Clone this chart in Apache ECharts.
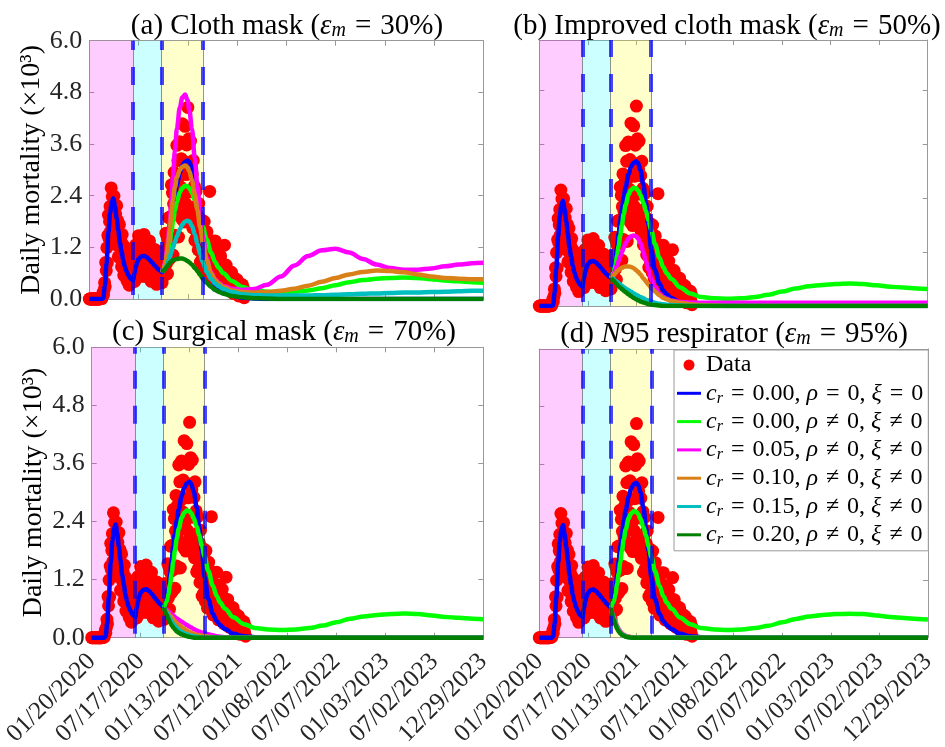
<!DOCTYPE html>
<html>
<head>
<meta charset="utf-8">
<script src="https://cdn.jsdelivr.net/npm/echarts@6/dist/echarts.min.js"></script>
<style>html,body{margin:0;padding:0;background:#fff}#c{width:945px;height:747px}</style>
</head>
<body>
<div id="c"></div>
<script>
// ---------- DATA ----------
const xTickLabels = ['01/20/2020','07/17/2020','01/13/2021','07/12/2021','01/08/2022','07/07/2022','01/03/2023','07/02/2023','12/29/2023'];
const xTickStepDays = 180;
const yTickStep = 1.2;

// daily mortality (x10^3), one reading every 2 days starting 01/20/2020
const dataStepDays = 2;
const dailyDeaths = [
  0,0,0,0,0,0,0,0,0,0,
  0,0,0,0,0,0,0,0,0,0,
  0.01,0.01,0.03,0.01,0.07,0.15,0.1,0.21,0.38,0.29,
  0.85,0.66,1.19,0.84,1.48,1.95,1.41,1.8,2.15,1.58,
  2.58,1.83,2.38,1.53,2.09,2.39,1.55,1.77,1.97,1.26,
  2.17,1.33,1.82,0.98,1.48,1.73,0.97,1.16,1.35,0.75,
  1.5,0.84,1.25,0.55,0.99,1.2,0.57,0.75,0.93,0.42,
  1.12,0.54,0.94,0.32,0.74,0.97,0.44,0.65,0.86,0.4,
  1.15,0.58,1.05,0.41,0.94,1.26,0.6,0.87,1.14,0.56,
  1.47,0.77,1.29,0.52,1.09,1.4,0.69,0.94,1.2,0.62,
  1.5,0.79,1.28,0.52,1.06,1.35,0.64,0.87,1.1,0.53,
  1.35,0.67,1.12,0.41,0.9,1.16,0.5,0.72,0.93,0.4,
  1.15,0.55,0.96,0.34,0.79,1.02,0.46,0.65,0.84,0.39,
  1.06,0.53,0.9,0.38,0.82,1.12,0.57,0.82,1.11,0.56,
  1.53,0.82,1.46,0.59,1.36,1.89,0.92,1.39,1.91,0.97,
  2.65,1.41,2.46,1.02,2.21,2.94,1.48,2.1,2.74,1.44,
  3.57,1.96,3.22,1.44,2.84,3.65,1.94,2.6,3.26,1.86,
  4.07,2.36,3.63,1.79,3.19,4.01,2.22,2.89,3.58,2.03,
  4.45,2.49,3.72,1.78,3.05,3.67,2.01,2.49,2.9,1.65,
  3.22,1.88,2.62,1.36,2.15,2.5,1.43,1.71,1.96,1.14,
  2.22,1.28,1.83,0.86,1.5,1.84,0.92,1.21,1.5,0.75,
  1.8,0.93,1.52,0.61,1.24,1.56,0.73,1.0,1.25,0.59,
  2.5,0.76,1.29,0.47,1.04,1.35,0.6,0.85,1.09,0.48,
  1.35,0.63,1.08,0.37,0.84,1.08,0.47,0.65,0.83,0.37,
  1.0,0.48,0.8,0.29,0.63,0.81,0.36,1.25,0.64,0.29,
  0.79,0.38,0.64,0.22,0.51,0.65,0.27,0.4,0.5,0.21,
  0.62,0.27,0.49,0.13,0.37,0.49,0.18,0.27,0.36,0.13,
  0.45,0.17,0.36,0.07,0.26,0.36,0.11,0.19,0.25,0.07,
  0.33,0.11,0.24,0.03
];

// intervention phase boundaries (days since 01/20/2020)
const phaseBounds = [160, 264, 415];

// fitted period (common to all curves)
const fitDays = [0,45,51,57,63,70,76,82,88,94,100,106,112,118,124,130,136,142,150,160,165,170,175,180,190,200,210,220,230,240,250,260];
const blueFit = [0,0,0.02,0.3,0.83,1.55,2.0,2.25,2.34,2.15,1.88,1.6,1.3,1.1,0.9,0.75,0.64,0.56,0.48,0.43,0.6,0.75,0.85,0.93,0.99,1.0,0.97,0.91,0.84,0.77,0.7,0.65];

// projection period
const projDays = [266,275,282,288,294,300,306,313,320,331,340,350,359,366,375,386,395,405,415,429,445,460,472,490,521,560,600,650,700,750,800,850,900,950,1000,1050,1100,1150,1200,1250,1300,1350,1400,1440];
const blueProj  = [0.62,0.78,1.0,1.3,1.6,1.9,2.15,2.42,2.65,2.93,3.1,3.19,3.22,3.18,3.02,2.7,2.3,1.8,1.25,0.8,0.5,0.34,0.26,0.18,0.08,0.03,0.01,0,0,0,0,0,0,0,0,0,0,0,0,0,0,0,0,0];
const greenProj = [0.62,0.74,0.9,1.1,1.33,1.57,1.8,2.05,2.25,2.48,2.58,2.63,2.62,2.57,2.47,2.3,2.12,1.9,1.68,1.38,1.08,0.86,0.73,0.6,0.42,0.28,0.2,0.17,0.16,0.17,0.2,0.25,0.32,0.39,0.44,0.47,0.49,0.5,0.49,0.46,0.43,0.41,0.39,0.38];

// (a) cloth mask
const magA = [0.62,0.82,1.08,1.4,1.8,2.3,2.85,3.45,3.95,4.45,4.68,4.75,4.62,4.38,3.95,3.25,2.62,1.98,1.45,0.95,0.62,0.46,0.38,0.3,0.24,0.21,0.23,0.33,0.52,0.78,1.0,1.13,1.17,1.08,0.93,0.8,0.72,0.68,0.68,0.71,0.76,0.8,0.83,0.84];
const oraA = [0.62,0.78,1.0,1.28,1.62,1.98,2.3,2.6,2.82,3.0,3.07,3.1,3.06,2.96,2.76,2.42,2.07,1.67,1.3,0.9,0.6,0.44,0.36,0.28,0.2,0.16,0.15,0.16,0.19,0.24,0.31,0.4,0.49,0.57,0.63,0.66,0.65,0.62,0.57,0.52,0.49,0.47,0.46,0.46];
const cyaA = [0.62,0.68,0.76,0.86,0.97,1.09,1.2,1.33,1.45,1.62,1.73,1.8,1.82,1.8,1.7,1.5,1.28,1.05,0.85,0.63,0.47,0.36,0.3,0.23,0.16,0.11,0.09,0.08,0.08,0.08,0.08,0.09,0.1,0.11,0.12,0.13,0.14,0.15,0.15,0.16,0.17,0.18,0.19,0.19];
const dkgA = [0.62,0.68,0.74,0.79,0.84,0.87,0.9,0.92,0.93,0.94,0.94,0.92,0.88,0.85,0.8,0.72,0.65,0.56,0.47,0.37,0.28,0.21,0.17,0.12,0.07,0.04,0.02,0.01,0,0,0,0,0,0,0,0,0,0,0,0,0,0,0,0];
// (b) improved cloth mask
const magB = [0.62,0.7,0.8,0.9,1.0,1.1,1.2,1.3,1.4,1.5,1.55,1.57,1.55,1.5,1.4,1.2,1.0,0.8,0.6,0.42,0.28,0.2,0.16,0.12,0.09,0.08,0.07,0.07,0.07,0.07,0.07,0.07,0.07,0.07,0.07,0.07,0.07,0.07,0.07,0.07,0.07,0.07,0.07,0.07];
const oraB = [0.62,0.68,0.73,0.77,0.8,0.83,0.85,0.87,0.88,0.88,0.87,0.84,0.8,0.76,0.7,0.62,0.55,0.47,0.4,0.32,0.24,0.18,0.15,0.11,0.07,0.04,0.02,0.01,0,0,0,0,0,0,0,0,0,0,0,0,0,0,0,0];
const cyaB = [0.62,0.6,0.57,0.54,0.51,0.48,0.45,0.42,0.39,0.35,0.32,0.28,0.25,0.23,0.2,0.17,0.14,0.12,0.1,0.07,0.05,0.04,0.03,0.02,0.01,0,0,0,0,0,0,0,0,0,0,0,0,0,0,0,0,0,0,0];
const dkgB = [0.62,0.57,0.52,0.48,0.44,0.41,0.38,0.34,0.31,0.26,0.22,0.18,0.15,0.13,0.1,0.08,0.06,0.04,0.03,0.02,0.01,0,0,0,0,0,0,0,0,0,0,0,0,0,0,0,0,0,0,0,0,0,0,0];
// (c) surgical mask
const magC = [0.62,0.58,0.55,0.52,0.49,0.46,0.43,0.4,0.37,0.33,0.3,0.26,0.23,0.21,0.18,0.15,0.13,0.11,0.09,0.07,0.05,0.03,0.02,0.01,0,0,0,0,0,0,0,0,0,0,0,0,0,0,0,0,0,0,0,0];
const oraC = [0.62,0.55,0.5,0.46,0.42,0.38,0.34,0.3,0.27,0.22,0.18,0.15,0.12,0.1,0.08,0.06,0.05,0.04,0.03,0.02,0.01,0,0,0,0,0,0,0,0,0,0,0,0,0,0,0,0,0,0,0,0,0,0,0];
const cyaC = [0.62,0.52,0.45,0.39,0.33,0.28,0.24,0.2,0.16,0.12,0.09,0.07,0.05,0.04,0.03,0.02,0.01,0,0,0,0,0,0,0,0,0,0,0,0,0,0,0,0,0,0,0,0,0,0,0,0,0,0,0];
const dkgC = [0.62,0.48,0.39,0.32,0.26,0.21,0.17,0.13,0.1,0.07,0.05,0.03,0.02,0.01,0,0,0,0,0,0,0,0,0,0,0,0,0,0,0,0,0,0,0,0,0,0,0,0,0,0,0,0,0,0];
// (d) N95 respirator
const magD = [0.62,0.45,0.33,0.25,0.18,0.13,0.09,0.06,0.04,0.02,0.01,0,0,0,0,0,0,0,0,0,0,0,0,0,0,0,0,0,0,0,0,0,0,0,0,0,0,0,0,0,0,0,0,0];
const oraD = [0.62,0.43,0.31,0.23,0.16,0.11,0.08,0.05,0.03,0.02,0.01,0,0,0,0,0,0,0,0,0,0,0,0,0,0,0,0,0,0,0,0,0,0,0,0,0,0,0,0,0,0,0,0,0];
const cyaD = [0.62,0.41,0.29,0.21,0.15,0.1,0.07,0.04,0.03,0.01,0,0,0,0,0,0,0,0,0,0,0,0,0,0,0,0,0,0,0,0,0,0,0,0,0,0,0,0,0,0,0,0,0,0];
const dkgD = [0.62,0.39,0.27,0.19,0.13,0.09,0.06,0.04,0.02,0.01,0,0,0,0,0,0,0,0,0,0,0,0,0,0,0,0,0,0,0,0,0,0,0,0,0,0,0,0,0,0,0,0,0,0];

const seriesNames = [
  'cr = 0.00, ρ = 0, ξ = 0',
  'cr = 0.00, ρ ≠ 0, ξ ≠ 0',
  'cr = 0.05, ρ ≠ 0, ξ ≠ 0',
  'cr = 0.10, ρ ≠ 0, ξ ≠ 0',
  'cr = 0.15, ρ ≠ 0, ξ ≠ 0',
  'cr = 0.20, ρ ≠ 0, ξ ≠ 0'
];
const panelTitles = [
  '(a) Cloth mask ({it|ε}{sub|m}{eq|=}30%)',
  '(b) Improved cloth mask ({it|ε}{sub|m}{eq|=}50%)',
  '(c) Surgical mask ({it|ε}{sub|m}{eq|=}70%)',
  '(d) {it|N}95 respirator ({it|ε}{sub|m}{eq|=}95%)'
];
const yAxisTitle = 'Daily mortality (×10³)';

// ---------- STYLE / LAYOUT ----------
const FONT = '"Liberation Serif", "Times New Roman", serif';
const curveColors = ['#0000ff','#00ff00','#ff00ff','#d98019','#00bfbf','#008000'];
const phaseColors = ['rgba(255,0,255,0.2)','rgba(0,255,255,0.2)','rgba(255,255,0,0.2)'];
const AX = '#999999';
const LINE_ICON = 'path://M0,0h24v3h-24z';

const panels = [
  {title: panelTitles[0], tx: 287, ty: 26, grid: {left: 89.3, top: 40.7, width: 394, height: 258.3}, yMax: 6, xLab: false, yLab: true, curves: [magA, oraA, cyaA, dkgA]},
  {title: panelTitles[1], tx: 727, ty: 26, grid: {left: 539.3, top: 40, width: 388.4, height: 266}, yMax: 5.92, xLab: false, yLab: false, curves: [magB, oraB, cyaB, dkgB]},
  {title: panelTitles[2], tx: 284, ty: 332, grid: {left: 91.7, top: 347.3, width: 391.6, height: 290.4}, yMax: 6, xLab: true, yLab: true, curves: [magC, oraC, cyaC, dkgC]},
  {title: panelTitles[3], tx: 734, ty: 334, grid: {left: 539.3, top: 349, width: 388.7, height: 288.7}, yMax: 6, xLab: true, yLab: false, curves: [magD, oraD, cyaD, dkgD]}
];

function pairs(days, vals) { return days.map((d, i) => [d, vals[i]]); }
function toRich(name) {
  return name.replace(/^cr/, '{it|c}{sub|r}')
             .replace(/ = /g, '{eq|=}')
             .replace(/ ≠ /g, '{eq|≠}')
             .replace(/ρ/g, '{it|ρ}')
             .replace(/ξ/g, '{it|ξ}');
}

const grids = [], xAxes = [], yAxes = [], series = [], graphics = [];
panels.forEach((p, k) => {
  grids.push(Object.assign({containLabel: false, outerBoundsMode: 'none'}, p.grid));
  const xBase = {
    type: 'value', gridIndex: k, min: 0, max: xTickStepDays * (xTickLabels.length - 1), interval: xTickStepDays,
    axisLine: {show: true, onZero: false, lineStyle: {color: AX, width: 1}},
    axisTick: {show: true, inside: true, length: 5, lineStyle: {color: AX}},
    splitLine: {show: false}
  };
  xAxes.push(Object.assign({}, xBase, {position: 'bottom', axisLabel: {
    show: p.xLab, rotate: 45, margin: 20, fontSize: 25, fontFamily: FONT, color: '#262626',
    formatter: v => xTickLabels[Math.round(v / xTickStepDays)]
  }}));
  xAxes.push(Object.assign({}, xBase, {position: 'top', axisLabel: {show: false}}));
  const yBase = {
    type: 'value', gridIndex: k, min: 0, max: p.yMax, interval: yTickStep,
    axisLine: {show: true, onZero: false, lineStyle: {color: AX, width: 1}},
    axisTick: {show: true, inside: true, length: 5, lineStyle: {color: AX}},
    splitLine: {show: false}
  };
  yAxes.push(Object.assign({}, yBase, {position: 'left',
    axisLabel: {show: p.yLab, margin: 7, fontSize: 26, fontFamily: FONT, color: '#262626', formatter: v => v.toFixed(1)},
    name: p.yLab ? yAxisTitle : '', nameLocation: 'middle', nameRotate: 90, nameGap: 44,
    nameTextStyle: {fontSize: 28, fontFamily: FONT, color: '#000'}
  }));
  yAxes.push(Object.assign({}, yBase, {position: 'right', axisLabel: {show: false}}));

  const xi = 2 * k, yi = 2 * k;
  series.push({
    type: 'scatter', name: 'Data', xAxisIndex: xi, yAxisIndex: yi, z: 2, silent: true,
    data: dailyDeaths.map((v, i) => [i * dataStepDays, v]),
    symbol: 'circle', symbolSize: 13, itemStyle: {color: '#ff0000', opacity: 1}
  });
  const curveData = [
    pairs(fitDays, blueFit).concat(pairs(projDays, blueProj)),
    pairs(projDays, greenProj)
  ].concat(p.curves.map(c => pairs(projDays, c)));
  curveData.forEach((d, j) => {
    series.push({
      type: 'line', name: seriesNames[j], xAxisIndex: xi, yAxisIndex: yi, z: 3 + j * 0.01, silent: true,
      data: d, showSymbol: false, symbol: 'none', smooth: 0.35, smoothMonotone: 'x',
      lineStyle: {width: 4.5, color: curveColors[j]}, itemStyle: {color: curveColors[j]}
    });
  });
  const areas = [0].concat(phaseBounds);
  series.push({
    type: 'line', name: 'phases' + k, xAxisIndex: xi, yAxisIndex: yi, z: 5, silent: true, data: [],
    markArea: {
      silent: true, animation: false,
      data: phaseBounds.map((b, i) => [{xAxis: areas[i], itemStyle: {color: phaseColors[i], borderWidth: 0}}, {xAxis: b}])
    },
    markLine: {
      silent: true, animation: false, symbol: ['none', 'none'], label: {show: false},
      data: phaseBounds.map(b => ({xAxis: b, lineStyle: {type: 'solid', width: 1, color: 'rgba(60,60,60,0.55)'}}))
        .concat(phaseBounds.map(b => ({xAxis: b, lineStyle: {type: [18, 17], dashOffset: 31, width: 4, color: 'rgba(0,0,255,0.72)'}})))
    }
  });

  graphics.push({
    type: 'text', x: p.tx, y: p.ty, silent: true,
    style: {
      text: p.title, fontFamily: FONT, fontSize: 29, fill: '#000', align: 'center', verticalAlign: 'middle',
      rich: {
        it: {fontFamily: FONT, fontSize: 29, fontStyle: 'italic', fill: '#000'},
        sub: {fontFamily: FONT, fontSize: 20, fontStyle: 'italic', fill: '#000', lineHeight: 14, verticalAlign: 'bottom'},
        eq: {fontFamily: FONT, fontSize: 29, fill: '#000', padding: [0, 9, 0, 9]}
      }
    }
  });
});

const chart = echarts.init(document.getElementById('c'), null, {renderer: 'canvas'});
chart.setOption({
  animation: false,
  backgroundColor: '#fff',
  grid: grids, xAxis: xAxes, yAxis: yAxes, series: series, graphic: graphics,
  legend: {
    data: [{name: 'Data', icon: 'circle', itemStyle: {color: '#ff0000'}}]
      .concat(seriesNames.map((n, j) => ({name: n, icon: LINE_ICON, itemStyle: {color: curveColors[j]}}))),
    orient: 'vertical', right: 16.7, top: 350, z: 20,
    itemWidth: 24, itemHeight: 11, itemGap: 2.3,
    backgroundColor: '#fff', borderColor: AX, borderWidth: 1, borderRadius: 0, padding: [2, 5, 3, 3],
    selectedMode: false,
    formatter: n => (n === 'Data' ? 'Data' : toRich(n)),
    textStyle: {
      fontFamily: FONT, fontSize: 24, color: '#000', lineHeight: 26,
      rich: {
        it: {fontFamily: FONT, fontSize: 24, fontStyle: 'italic', color: '#000', lineHeight: 26},
        sub: {fontFamily: FONT, fontSize: 16, fontStyle: 'italic', color: '#000', lineHeight: 12, verticalAlign: 'bottom'},
        eq: {fontFamily: FONT, fontSize: 24, color: '#000', lineHeight: 26, padding: [0, 8, 0, 8]}
      }
    }
  }
});
</script>
</body>
</html>
